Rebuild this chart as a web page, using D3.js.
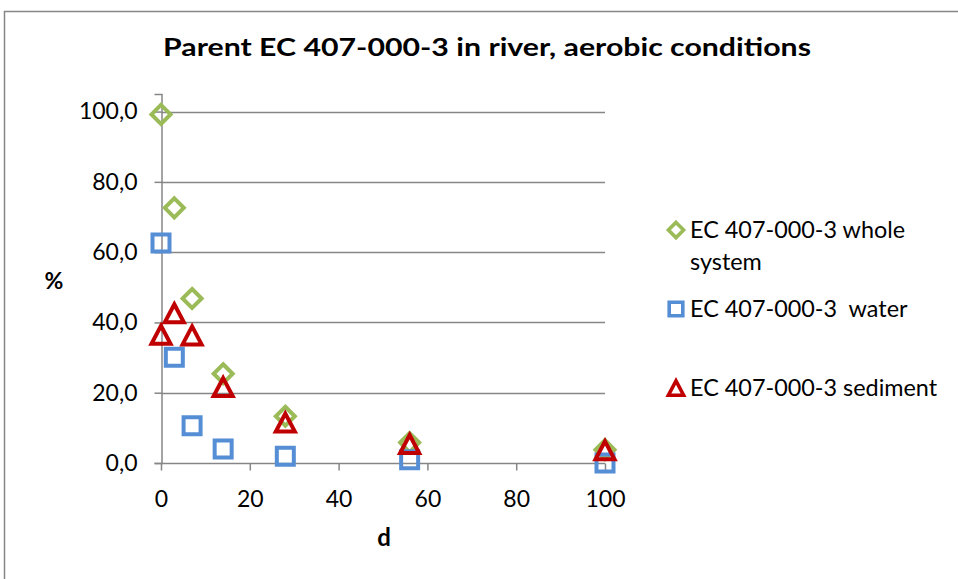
<!DOCTYPE html>
<html>
<head>
<meta charset="utf-8">
<script src="https://cdn.jsdelivr.net/npm/d3@7"></script>
<style>
  body { margin: 0; background: #fff; }
  text { font-family: Lato, "Open Sans", sans-serif; fill: #000; }
</style>
</head>
<body>
<svg id="chart" width="958" height="579"></svg>
<script>
// data
const days = [0, 3, 7, 14, 28, 56, 100];
const wholeSystem = [99.2, 72.6, 46.8, 25.4, 13.3, 5.8, 3.8];
const water = [62.6, 30.1, 10.6, 4.0, 1.9, 0.9, 0.0];
const sediment = [36.5, 42.6, 36.3, 21.6, 11.5, 5.4, 3.6];
const xTicks = [0, 20, 40, 60, 80, 100];
const yTicks = [0, 20, 40, 60, 80, 100];

const series = [
    { name: "EC 407-000-3 whole system", lines: ["EC 407-000-3 whole", "system"], values: wholeSystem, shape: "diamond", color: "#9BBB59" },
    { name: "EC 407-000-3  water", lines: ["EC 407-000-3\u00a0 water"], values: water, shape: "square", color: "#558ED5" },
    { name: "EC 407-000-3 sediment", lines: ["EC 407-000-3 sediment"], values: sediment, shape: "triangle", color: "#C00000" }
];

const svg = d3.select("#chart");
const width = +svg.attr("width");
const height = +svg.attr("height");

// chart border
svg.append("rect")
    .attr("x", 4.5).attr("y", 11.5)
    .attr("width", width + 20).attr("height", height + 20)
    .attr("fill", "#fff")
    .attr("stroke", "#868686")
    .attr("stroke-width", 1.5);

const margin = { left: 161, top: 94, right: 605, bottom: 463 };

const xScale = d3.scaleLinear().domain([0, 100]).range([margin.left, margin.right]);
const yScale = d3.scaleLinear().domain([0, 105]).range([margin.bottom, margin.top]);

const fmt = d => d3.format(".1f")(d).replace(".", ",");

// gridlines
svg.append("g")
    .selectAll("line")
    .data(yTicks.filter(d => d > 0))
    .enter()
    .append("line")
    .attr("x1", xScale(0)).attr("x2", xScale(100))
    .attr("y1", d => Math.round(yScale(d)) + 0.5)
    .attr("y2", d => Math.round(yScale(d)) + 0.5)
    .attr("stroke", "#868686")
    .attr("stroke-width", 1.5);

// axes
const xAxis = d3.axisBottom(xScale).tickValues(xTicks).tickSize(7).tickPadding(20);
const yAxis = d3.axisLeft(yScale).tickValues(yTicks).tickSize(7).tickPadding(17).tickFormat(fmt);

const gx = svg.append("g")
    .attr("transform", `translate(0,${Math.round(yScale(0)) + 0.5})`)
    .call(xAxis);

const gy = svg.append("g")
    .attr("transform", `translate(${Math.round(xScale(0)) + 0.5},0)`)
    .call(yAxis);

[gx, gy].forEach(g => {
    g.selectAll("path, line").attr("stroke", "#868686").attr("stroke-width", 1.5);
    g.selectAll("text").attr("font-size", 23).attr("font-family", "Lato, sans-serif").attr("fill", "#000");
});
gx.select(".domain").attr("d", `M${xScale(0)},0H${xScale(100)}`);
gx.selectAll("text").attr("dy", "0.71em");

// titles
svg.append("text")
    .attr("x", 487).attr("y", 56)
    .attr("text-anchor", "middle")
    .attr("font-size", 24).attr("font-weight", "bold")
    .attr("textLength", 648).attr("lengthAdjust", "spacingAndGlyphs")
    .text("Parent EC 407-000-3 in river, aerobic conditions");

svg.append("text")
    .attr("x", 54).attr("y", 289)
    .attr("text-anchor", "middle")
    .attr("font-size", 23).attr("font-weight", "bold")
    .text("%");

svg.append("text")
    .attr("x", 384).attr("y", 546)
    .attr("text-anchor", "middle")
    .attr("font-size", 24).attr("font-weight", "bold")
    .text("d");

// markers
const shapePath = {
    diamond: "M0,-9.5L9.5,0L0,9.5L-9.5,0Z",
    square: "M-8.5,-8.5H8.5V8.5H-8.5Z",
    triangle: "M0,-9L9.5,9H-9.5Z"
};

series.forEach(s => {
    svg.append("g")
        .selectAll("path")
        .data(days.map((d, i) => ({ d: d, v: s.values[i] })))
        .enter()
        .append("path")
        .attr("d", shapePath[s.shape])
        .attr("transform", p => `translate(${xScale(p.d)},${yScale(p.v)})`)
        .attr("fill", "none")
        .attr("stroke", s.color)
        .attr("stroke-width", 4)
        .attr("stroke-linejoin", "miter");
});

// legend
const legendY = [230, 309, 388];
const legend = svg.append("g");
series.forEach((s, i) => {
    const row = legend.append("g").attr("transform", `translate(676,${legendY[i]})`);
    row.append("path")
        .attr("d", shapePath[s.shape])
        .attr("transform", "scale(0.8)")
        .attr("fill", "none")
        .attr("stroke", s.color)
        .attr("stroke-width", 4.5);
    s.lines.forEach((ln, j) => {
        row.append("text")
            .attr("x", 14).attr("y", j * 32)
            .attr("dy", "0.35em")
            .attr("font-size", 23.4)
            .text(ln);
    });
});
</script>
</body>
</html>
